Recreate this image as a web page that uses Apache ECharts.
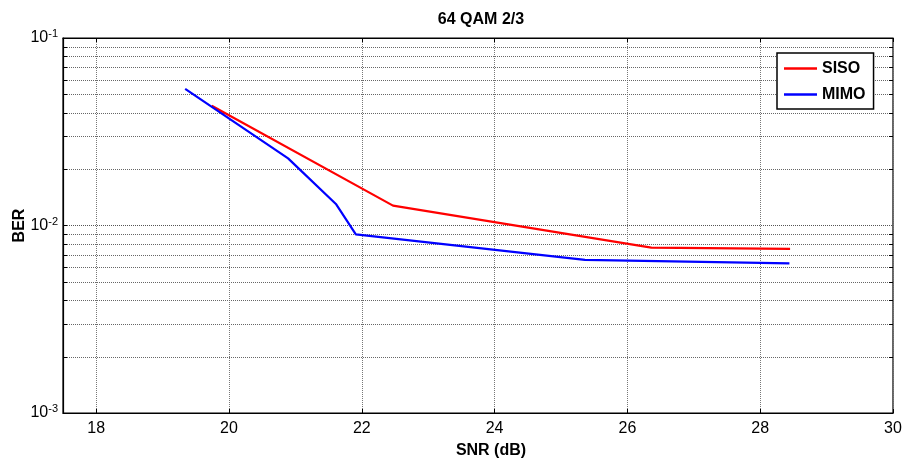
<!DOCTYPE html>
<html>
<head>
<meta charset="utf-8">
<script src="https://cdn.jsdelivr.net/npm/echarts@6/dist/echarts.min.js"></script>
<style>
html,body{margin:0;padding:0;background:#fff;}
#chart{width:903px;height:464px;}
</style>
</head>
<body>
<div id="chart"></div>
<script>
var titleText = '64 QAM 2/3';
var xTicks = [18, 20, 22, 24, 26, 28, 30];
var sisoSNR = [19.74, 22.47, 26.36, 28.45];
var sisoBER = [0.0435, 0.01277, 0.00762, 0.0075];
var mimoSNR = [19.34, 20.89, 21.61, 21.91, 25.36, 28.44];
var mimoBER = [0.0535, 0.0228, 0.01303, 0.00897, 0.00655, 0.00628];
var minorGrid = [0.002, 0.003, 0.004, 0.005, 0.006, 0.007, 0.008, 0.009,
                 0.02, 0.03, 0.04, 0.05, 0.06, 0.07, 0.08, 0.09];

function pairs(xs, ys) { return xs.map(function (x, i) { return [x, ys[i]]; }); }

var FONT = '"Liberation Sans", Arial, sans-serif';
var chart = echarts.init(document.getElementById('chart'), null, {renderer: 'canvas'});
chart.setOption({
  animation: false,
  backgroundColor: '#fff',
  title: {
    text: titleText, left: 476, top: 7, textAlign: 'center',
    textStyle: {fontFamily: FONT, fontSize: 16, fontWeight: 'bold', color: '#000'}
  },
  grid: {left: 63, right: 10, top: 38, bottom: 51, outerBoundsMode: 'none', containLabel: false,
         show: true, borderColor: '#000', borderWidth: 1.2, backgroundColor: 'transparent'},
  legend: {
    orient: 'vertical', left: 777, top: 53,
    backgroundColor: '#fff', borderColor: '#000', borderWidth: 1.5,
    padding: [7, 8, 6, 7], itemGap: 9, itemWidth: 33, itemHeight: 2.5,
    textStyle: {fontFamily: FONT, fontSize: 16, fontWeight: 'bold', color: '#000', lineHeight: 17},
    data: [{name: 'SISO', icon: 'rect'}, {name: 'MIMO', icon: 'rect'}]
  },
  xAxis: [{
    type: 'value', min: 17.5, max: 30,
    name: 'SNR (dB)', nameLocation: 'middle', nameGap: 30, nameMoveOverlap: false,
    nameTextStyle: {fontFamily: FONT, fontSize: 16, fontWeight: 'bold', color: '#000', padding: [0, 0, 0, 26]},
    axisLine: {show: true, onZero: false, lineStyle: {color: '#000', width: 1.2}},
    axisTick: {show: true, inside: true, length: 4, customValues: xTicks, lineStyle: {color: '#000'}},
    axisLabel: {customValues: xTicks, margin: 8, fontFamily: FONT, fontSize: 16, color: '#000'},
    splitLine: {show: true, lineStyle: {color: '#777', type: [1, 1], width: 1}}
  }, {
    type: 'value', min: 17.5, max: 30, position: 'top',
    axisLine: {show: true, onZero: false, lineStyle: {color: '#000', width: 1.2}},
    axisTick: {show: true, inside: true, length: 4, customValues: xTicks, lineStyle: {color: '#000'}},
    axisLabel: {show: false, customValues: xTicks},
    splitLine: {show: false}
  }],
  yAxis: {
    type: 'log', logBase: 10, min: 0.001, max: 0.1,
    name: 'BER', nameLocation: 'middle', nameGap: 35, nameMoveOverlap: false,
    nameTextStyle: {fontFamily: FONT, fontSize: 16, fontWeight: 'bold', color: '#000'},
    axisLine: {show: true, lineStyle: {color: '#000', width: 1.2}},
    axisTick: {show: true, inside: true, length: 4, lineStyle: {color: '#000'}},
    axisLabel: {
      margin: 5, color: '#000',
      formatter: function (v) {
        var e = Math.round(Math.log10(v));
        return '{b|10}{s|' + e + '}';
      },
      rich: {
        b: {fontFamily: FONT, fontSize: 16, color: '#000'},
        s: {fontFamily: FONT, fontSize: 11, color: '#000', verticalAlign: 'top', padding: [0, 0, 8, 0]}
      }
    },
    splitLine: {show: true, lineStyle: {color: '#555', type: [1, 1], width: 1}}
  },
  series: [
    {
      name: 'minorGrid', type: 'custom', silent: true, z: 1,
      data: minorGrid.map(function (v) { return [v]; }),
      encode: {y: 0},
      renderItem: function (params, api) {
        var cs = params.coordSys;
        var y = Math.round(api.coord([xTicks[0], api.value(0)])[1]) + 0.5;
        var x0 = cs.x, x1 = cs.x + cs.width;
        return {
          type: 'group',
          children: [
            {type: 'line', shape: {x1: x0, y1: y, x2: x1, y2: y},
             style: {stroke: '#666', lineWidth: 1, lineDash: [1, 1]}},
            {type: 'line', shape: {x1: x0, y1: y, x2: x0 + 4, y2: y},
             style: {stroke: '#000', lineWidth: 1}},
            {type: 'line', shape: {x1: x1 - 4, y1: y, x2: x1, y2: y},
             style: {stroke: '#000', lineWidth: 1}}
          ]
        };
      }
    },
    {
      name: 'SISO', type: 'line', data: pairs(sisoSNR, sisoBER), symbol: 'none', z: 3,
      lineStyle: {color: '#ff0000', width: 2.2}, itemStyle: {color: '#ff0000'}
    },
    {
      name: 'MIMO', type: 'line', data: pairs(mimoSNR, mimoBER), symbol: 'none', z: 4,
      lineStyle: {color: '#0000ff', width: 2.2}, itemStyle: {color: '#0000ff'}
    }
  ]
});
</script>
</body>
</html>
